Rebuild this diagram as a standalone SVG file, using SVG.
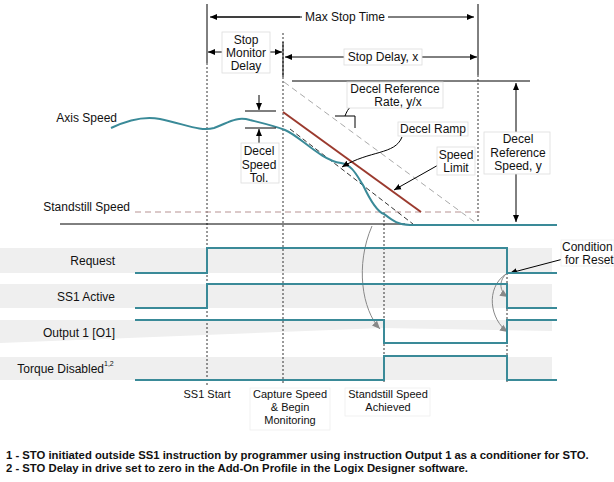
<svg xmlns="http://www.w3.org/2000/svg" width="614" height="482" viewBox="0 0 614 482">
<defs>
<marker id="ah" markerWidth="8" markerHeight="8" refX="7" refY="4" orient="auto" markerUnits="userSpaceOnUse"><path d="M0,1 L7,4 L0,7 z" fill="#000"/></marker>
<marker id="ag" markerWidth="9" markerHeight="9" refX="8" refY="4.5" orient="auto" markerUnits="userSpaceOnUse"><path d="M0,1 L8,4.5 L0,8 z" fill="#888"/></marker>
</defs>
<style>
text{font-family:"Liberation Sans",Arial,sans-serif;font-size:12px;fill:#111}
.c{text-anchor:middle}.r{text-anchor:end}
.band{fill:#efefef}
.sig{fill:none;stroke:#3a8a98;stroke-width:2}
.dot{stroke:#000;stroke-width:0.8;stroke-dasharray:2,2;fill:none}
.sol{stroke:#000;stroke-width:1;fill:none}
.box{fill:#fff;stroke:#ddd;stroke-width:0.8}
.fn{font-weight:bold;font-size:11.3px}
.sm{font-size:11px}
</style>
<rect width="614" height="482" fill="#fff"/>
<g id="bands">
<rect class="band" x="0" y="248" width="552" height="25"/>
<rect class="band" x="0" y="284" width="552" height="24"/>
<polygon class="band" points="0,320 552,320 552,331 383,328 0,343"/>
<rect class="band" x="0" y="357" width="552" height="23"/>
</g>
<g id="guides">
<line class="sol" x1="207" y1="4" x2="207" y2="63"/>
<line class="dot" x1="207" y1="63" x2="207" y2="387"/>
<line class="sol" x1="478" y1="4" x2="478" y2="75"/>
<line class="dot" x1="478" y1="75" x2="478" y2="222"/>
<line class="dot" x1="283" y1="33" x2="283" y2="385"/>
<line class="sol" x1="283" y1="42" x2="283" y2="77"/>
<line class="dot" x1="384" y1="212" x2="384" y2="382"/>
<line class="dot" x1="507" y1="273" x2="507" y2="382"/>
</g>
<g id="connectors">
<line class="sol" x1="212" y1="17" x2="474" y2="17" marker-end="url(#ah)"/>
<line class="sol" x1="300" y1="17" x2="210" y2="17" marker-end="url(#ah)"/>
<line class="sol" x1="240" y1="52" x2="208" y2="52" marker-end="url(#ah)"/>
<line class="sol" x1="250" y1="52" x2="282" y2="52" marker-end="url(#ah)"/>
<line class="sol" x1="380" y1="57" x2="285" y2="57" marker-end="url(#ah)"/>
<line class="sol" x1="380" y1="57" x2="477" y2="57" marker-end="url(#ah)"/>
<line class="sol" x1="292" y1="81" x2="530" y2="81"/>
<line class="sol" x1="516" y1="150" x2="516" y2="83" marker-end="url(#ah)"/>
<line class="sol" x1="516" y1="150" x2="516" y2="222" marker-end="url(#ah)"/>
<line class="sol" x1="60" y1="224" x2="405" y2="224"/>
<line x1="135" y1="212" x2="480" y2="212" stroke="#b89494" stroke-width="1.2" stroke-dasharray="6,4"/>
<line x1="284" y1="82" x2="476" y2="223" stroke="#aaa" stroke-width="1" stroke-dasharray="6,4"/>
<line x1="283" y1="112" x2="421" y2="212" stroke="#9b3a2e" stroke-width="2"/>
<line x1="290" y1="129" x2="413" y2="224" stroke="#000" stroke-width="0.8" stroke-dasharray="5,3"/>
<path d="M111,128 C130,119 145,116 160,119 C185,124 200,132 214,128 C228,123 236,116 250,120 C262,123 275,126 285,130 C300,136 320,160 341,163 C352,165 356,174 363,185 C370,200 378,212 384,214 C392,220 398,225 410,225 L557,225" class="sig"/>
<line class="sol" x1="245" y1="111" x2="276" y2="111"/>
<line class="sol" x1="245" y1="128" x2="276" y2="128"/>
<line class="sol" x1="259" y1="95" x2="259" y2="110" marker-end="url(#ah)"/>
<line class="sol" x1="259" y1="143" x2="259" y2="129" marker-end="url(#ah)"/>
<path class="sol" d="M345,116 C348,108 352,102 366,102" marker-end="url(#ah)"/>
<path class="sol" d="M335,116 L355,116 L355,128"/>
<path class="sol" d="M402,137 C395,155 370,150 342,167" marker-end="url(#ah)"/>
<line class="sol" x1="440" y1="164" x2="394" y2="190" marker-end="url(#ah)"/>
<path d="M372,226 C355,265 362,310 380,329" fill="none" stroke="#888" stroke-width="1" marker-end="url(#ag)"/>
<line class="sol" x1="567" y1="258" x2="510" y2="273" marker-end="url(#ah)"/>
<path d="M506,274 C498,282 500,292 508,297" fill="none" stroke="#888" stroke-width="1" marker-end="url(#ag)"/>
<path d="M506,274 C485,288 490,320 508,332" fill="none" stroke="#888" stroke-width="1" marker-end="url(#ag)"/>
</g>
<g id="signals">
<polyline class="sig" points="135,273 207,273 207,248 507,248 507,273 557,273"/>
<polyline class="sig" points="135,308 207,308 207,284 507,284 507,308 557,308"/>
<polyline class="sig" points="135,320 384,320 384,343 507,343 507,320 557,320"/>
<polyline class="sig" points="135,380 384,380 384,356 507,356 507,380 557,380"/>
</g>
<g id="labels">
<rect x="302" y="10" width="86" height="14" fill="#fff"/>
<text class="c" x="345" y="21">Max Stop Time</text>
<rect class="box" x="222" y="32" width="48" height="41"/>
<text class="c" x="246" y="44">Stop</text><text class="c" x="246" y="57">Monitor</text><text class="c" x="246" y="70">Delay</text>
<rect class="box" x="344" y="49" width="78" height="16"/>
<text class="c" x="383" y="61">Stop Delay, x</text>
<rect class="box" x="347" y="82" width="96" height="26"/>
<text class="c" x="395" y="93">Decel Reference</text><text class="c" x="398" y="106">Rate, y/x</text>
<rect class="box" x="398" y="122" width="70" height="14"/>
<text class="c" x="433" y="133">Decel Ramp</text>
<rect class="box" x="437" y="147" width="38" height="28"/>
<text class="c" x="456" y="159">Speed</text><text class="c" x="456" y="172">Limit</text>
<rect class="box" x="484" y="132" width="66" height="42"/>
<text class="c" x="518" y="143">Decel</text><text class="c" x="518" y="157">Reference</text><text class="c" x="518" y="170">Speed, y</text>
<rect class="box" x="241" y="143" width="38" height="40"/>
<text class="c" x="259" y="155">Decel</text><text class="c" x="259" y="169">Speed</text><text class="c" x="259" y="182">Tol.</text>
<text class="r" x="117" y="122">Axis Speed</text>
<text class="r" x="130" y="211">Standstill Speed</text>
<text class="r" x="115" y="265">Request</text>
<text class="r" x="115" y="301">SS1 Active</text>
<text class="r" x="115" y="337">Output 1 [O1]</text>
<text class="r" x="104" y="373">Torque Disabled</text><text x="104" y="366" style="font-size:7px">1,2</text>
<rect class="box" x="561" y="240" width="53" height="26" style="stroke:#eee"/>
<text x="562" y="251">Condition</text><text x="565" y="264">for Reset</text>
<text class="c sm" x="207" y="398">SS1 Start</text>
<rect class="box" x="250" y="388" width="80" height="42" style="stroke:#eee"/>
<text class="c sm" x="290" y="398">Capture  Speed</text><text class="c sm" x="290" y="411">&amp; Begin</text><text class="c sm" x="290" y="424">Monitoring</text>
<rect class="box" x="345" y="388" width="85" height="28" style="stroke:#eee"/>
<text class="c sm" x="388" y="398">Standstill Speed</text><text class="c sm" x="388" y="411">Achieved</text>
<text class="fn" x="6" y="459">1 - STO initiated outside SS1 instruction by programmer using instruction Output 1 as a conditioner for STO.</text>
<text class="fn" x="6" y="472">2 - STO Delay in drive set to zero in the Add-On Profile in the Logix Designer software.</text>
</g>
</svg>
